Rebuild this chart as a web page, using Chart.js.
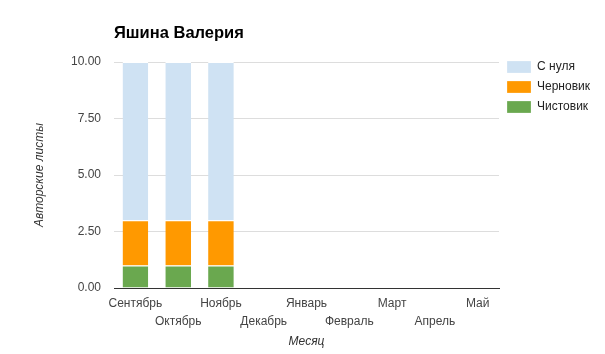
<!DOCTYPE html>
<html>
<head>
<meta charset="utf-8">
<script src="https://cdn.jsdelivr.net/npm/chart.js@4/dist/chart.umd.min.js"></script>
<style>
  html, body { margin: 0; padding: 0; background: #fff; }
  #wrap { width: 605px; height: 354px; }
</style>
</head>
<body>
<div id="wrap"><canvas id="chart"></canvas></div>
<script>
// Данные графика
const months = ['Сентябрь', 'Октябрь', 'Ноябрь', 'Декабрь', 'Январь', 'Февраль', 'Март', 'Апрель', 'Май'];
const chistovik = [1, 1, 1, 0, 0, 0, 0, 0, 0];
const chernovik = [2, 2, 2, 0, 0, 0, 0, 0, 0];
const sNulya = [7, 7, 7, 0, 0, 0, 0, 0, 0];
const yTicks = [0, 2.5, 5, 7.5, 10];

// Подписи в два ряда: чётные сверху, нечётные снизу
const monthLabels = months.map((m, i) => (i % 2 === 0 ? [m, ''] : ['', m]));

const font = "Arial, 'Liberation Sans', sans-serif";
const segBorder = { top: 1, right: 0, bottom: 0, left: 0 };

new Chart(document.getElementById('chart'), {
    type: 'bar',
    data: {
        labels: monthLabels,
        datasets: [
            { label: 'Чистовик', data: chistovik, backgroundColor: '#6aa84f', borderColor: '#ffffff', borderWidth: segBorder, borderSkipped: false },
            { label: 'Черновик', data: chernovik, backgroundColor: '#ff9900', borderColor: '#ffffff', borderWidth: segBorder, borderSkipped: false },
            { label: 'С нуля', data: sNulya, backgroundColor: '#cfe2f3', borderColor: '#ffffff', borderWidth: segBorder, borderSkipped: false }
        ]
    },
    options: {
        responsive: true,
        maintainAspectRatio: false,
        animation: false,
        layout: { padding: { top: 53, right: 5, bottom: 0, left: 10 } },
        datasets: { bar: { barPercentage: 0.6, categoryPercentage: 1.0 } },
        scales: {
            x: {
                stacked: true,
                grid: { display: false, drawTicks: false },
                border: { display: true, color: '#333333', width: 1 },
                ticks: {
                    autoSkip: false, maxRotation: 0, minRotation: 0, padding: 7,
                    color: '#444444', font: { family: font, size: 12, lineHeight: 1.5 }
                },
                title: {
                    display: true, text: 'Месяц', color: '#333333',
                    font: { family: font, size: 12, style: 'italic' },
                    padding: { top: 0, bottom: 5 }
                },
                afterFit: (scale) => { scale.height = 66; }
            },
            y: {
                stacked: true,
                min: 0,
                max: 10,
                afterBuildTicks: (scale) => { scale.ticks = yTicks.map(v => ({ value: v })); },
                grid: { color: '#dddddd', drawTicks: false },
                border: { display: false },
                ticks: {
                    padding: 13, color: '#444444',
                    font: { family: font, size: 12 },
                    callback: (v) => Number(v).toFixed(2)
                },
                title: {
                    display: true, text: 'Авторские листы', color: '#333333',
                    font: { family: font, size: 12, style: 'italic' },
                    padding: { top: 22, bottom: 0 }
                },
                afterFit: (scale) => { scale.width = 104; }
            }
        },
        plugins: {
            title: {
                display: true, text: 'Яшина Валерия', align: 'start', fullSize: false,
                color: '#000000', font: { family: font, size: 16.5, weight: 'bold' },
                padding: { top: -29, bottom: 18.2 }
            },
            legend: {
                position: 'right', align: 'start', reverse: true,
                labels: {
                    boxWidth: 24, boxHeight: 12, padding: 8,
                    color: '#222222', font: { family: font, size: 12 }
                }
            },
            tooltip: { enabled: false }
        }
    }
});
</script>
</body>
</html>
